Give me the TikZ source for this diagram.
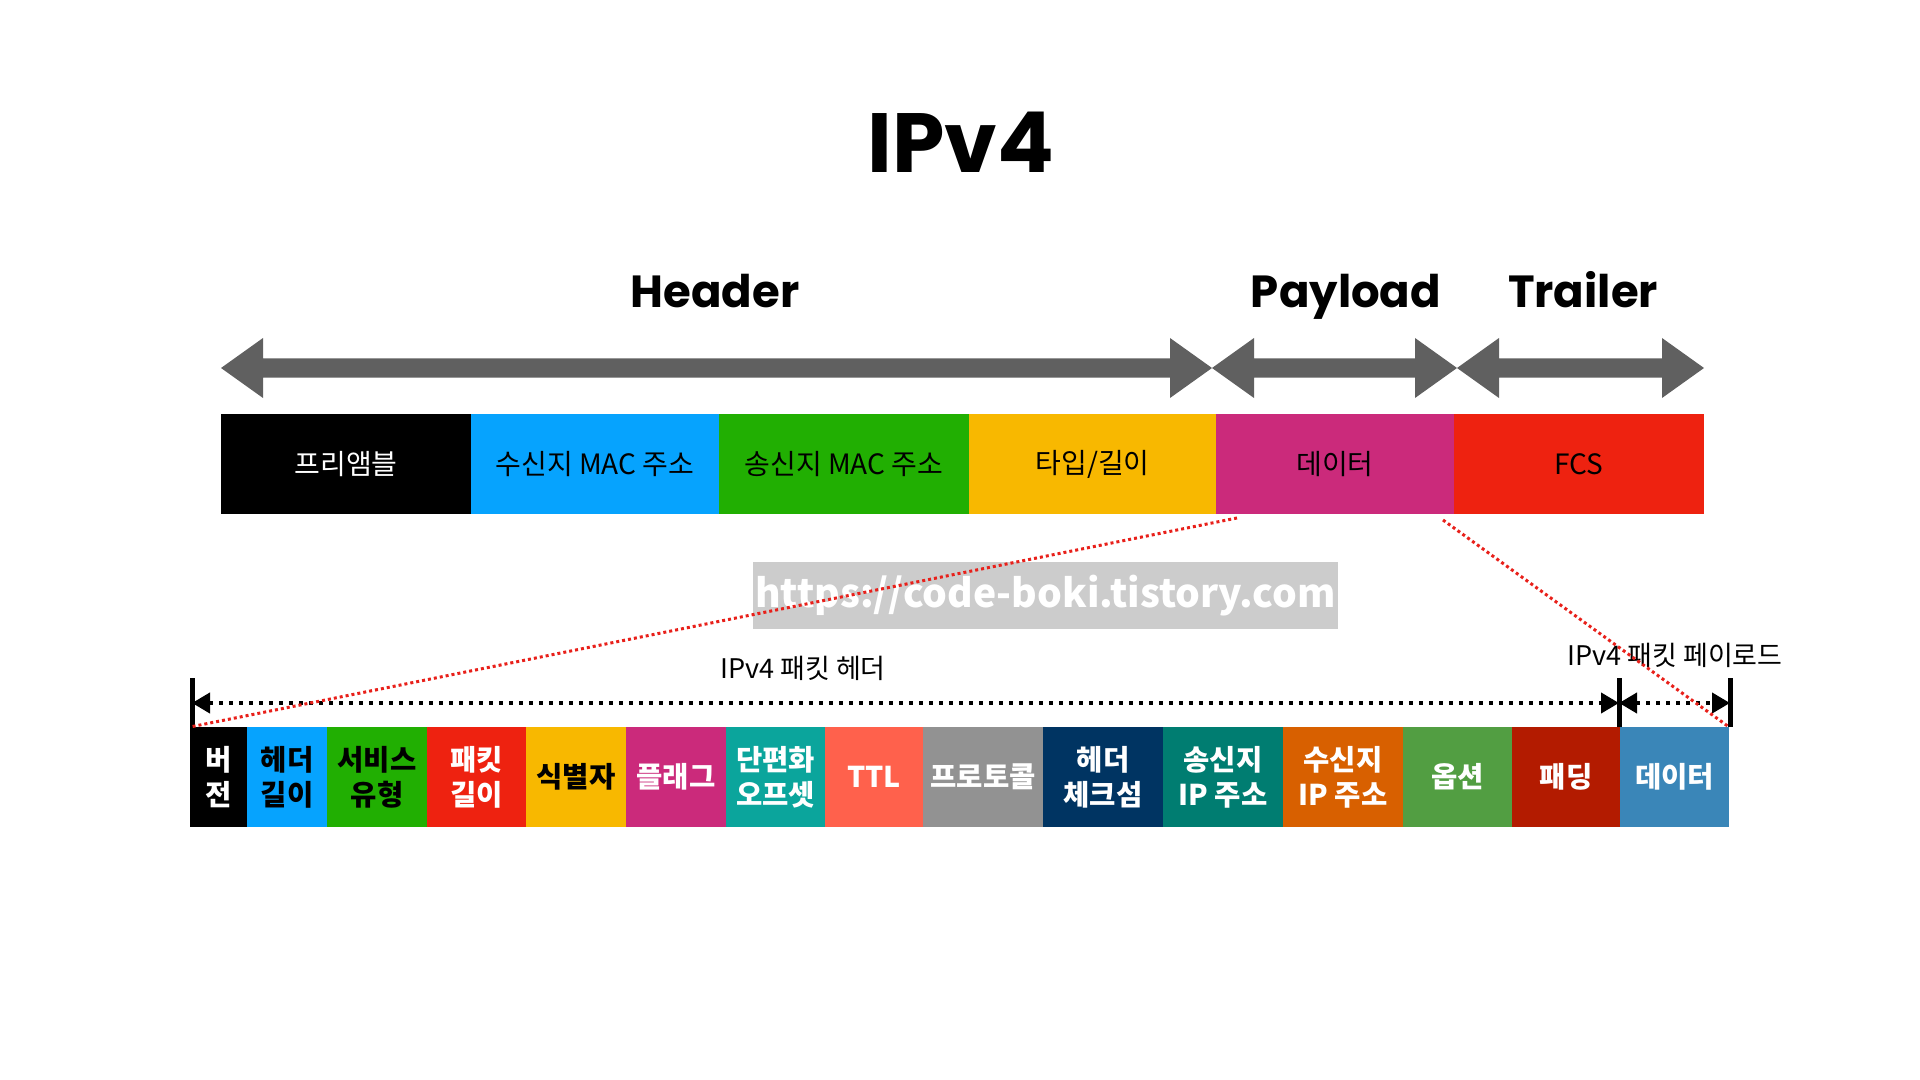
\documentclass[tikz,border=0pt]{standalone}
\usepackage{fontspec}
\setmainfont{Noto Sans CJK KR}
\newfontfamily\popfont{Poppins}
\usetikzlibrary{arrows.meta}
\definecolor{agray}{HTML}{606060}
\definecolor{cblack}{HTML}{000000}
\definecolor{cblue}{HTML}{06A3FE}
\definecolor{cgreen}{HTML}{21AF02}
\definecolor{cyellow}{HTML}{F8B800}
\definecolor{cmag}{HTML}{CB2A7B}
\definecolor{cred}{HTML}{EE2210}
\definecolor{cteal}{HTML}{0BA59C}
\definecolor{ctomato}{HTML}{FF614C}
\definecolor{cgray}{HTML}{929292}
\definecolor{cnavy}{HTML}{003462}
\definecolor{cteal2}{HTML}{007D71}
\definecolor{corange}{HTML}{D86000}
\definecolor{cgreen2}{HTML}{529E42}
\definecolor{cdred}{HTML}{B31B00}
\definecolor{csteel}{HTML}{3A86B8}
\definecolor{wmgray}{HTML}{CCCCCC}
\definecolor{dotred}{HTML}{E8201A}
\newcommand\mkcell[9]{%
  \node[#9, fill=#6, text=#7, minimum width={(#3-#2)*0.5pt}, minimum height={(#5-#4)*0.5pt}]
    (#1) at ({(#2+#3)/2},{(#4+#5)/2}) {#8};}
\newcommand\bigdarrow[2]{%
  \fill[agray] (#1,368) -- ({#1+42},338) -- ({#1+42},358.5) -- ({#2-42},358.5) -- ({#2-42},338)
    -- (#2,368) -- ({#2-42},398) -- ({#2-42},377.5) -- ({#1+42},377.5) -- ({#1+42},398) -- cycle;}
\begin{document}
\begin{tikzpicture}[x=0.5pt,y=-0.5pt,
  topcell/.style={inner sep=0pt, outer sep=0pt, font=\fontsize{14}{17}\selectfont},
  botcell/.style={inner sep=0pt, outer sep=0pt, align=center, font=\bfseries\fontsize{14.3}{17.5}\selectfont},
  titletext/.style={font=\popfont\bfseries\fontsize{42}{50}\selectfont, anchor=base},
  parttext/.style={font=\popfont\bfseries\fontsize{22.5}{28}\selectfont, anchor=base},
  dimlabel/.style={font=\fontsize{13.5}{16}\selectfont, inner sep=0pt},
  dimline/.style={line width=2pt, dash pattern=on 2pt off 3pt, {Triangle[length=9pt,width=10pt]}-{Triangle[length=9pt,width=10pt]}},
  ticklin/.style={line width=2.5pt},
  redline/.style={dotred, line width=1.5pt, dash pattern=on 1.5pt off 1.5pt}]
\useasboundingbox (0,0) rectangle (1920,1080);
% title and part labels
\node[titletext] (title) at (961,173) {IPv4};
\node[parttext] (hdr) at (715,308) {Header};
\node[parttext] (pay) at (1346,308) {Payload};
\node[parttext] (trl) at (1583,308) {Trailer};
% big double arrows
\bigdarrow{221}{1212}
\bigdarrow{1212}{1457}
\bigdarrow{1457}{1704}
% top bar
\mkcell{tA}{221}{471}{414}{514}{cblack}{white}{프리앰블}{topcell}
\mkcell{tB}{471}{719}{414}{514}{cblue}{black}{수신지 MAC 주소}{topcell}
\mkcell{tC}{719}{969}{414}{514}{cgreen}{black}{송신지 MAC 주소}{topcell}
\mkcell{tD}{969}{1216}{414}{514}{cyellow}{black}{타입/길이}{topcell}
\mkcell{tE}{1216}{1454}{414}{514}{cmag}{black}{데이터}{topcell}
\mkcell{tF}{1454}{1704}{414}{514}{cred}{black}{FCS}{topcell}
% watermark
\node[fill=wmgray, text=white, inner sep=0pt, minimum width=292.5pt, minimum height=33.5pt,
  font=\bfseries\fontsize{19.5}{24}\selectfont] (wm) at (1045.5,595.5) {https://code-boki.tistory.com};
% bottom row
\mkcell{b1}{190}{247}{727}{827}{cblack}{white}{버\\전}{botcell}
\mkcell{b2}{247}{327}{727}{827}{cblue}{black}{헤더\\길이}{botcell}
\mkcell{b3}{327}{427}{727}{827}{cgreen}{black}{서비스\\유형}{botcell}
\mkcell{b4}{427}{526}{727}{827}{cred}{white}{패킷\\길이}{botcell}
\mkcell{b5}{526}{626}{727}{827}{cyellow}{black}{식별자}{botcell}
\mkcell{b6}{626}{726}{727}{827}{cmag}{white}{플래그}{botcell}
\mkcell{b7}{726}{825}{727}{827}{cteal}{white}{단편화\\오프셋}{botcell}
\mkcell{b8}{825}{923}{727}{827}{ctomato}{white}{TTL}{botcell}
\mkcell{b9}{923}{1043}{727}{827}{cgray}{white}{프로토콜}{botcell}
\mkcell{b10}{1043}{1163}{727}{827}{cnavy}{white}{헤더\\체크섬}{botcell}
\mkcell{b11}{1163}{1283}{727}{827}{cteal2}{white}{송신지\\IP 주소}{botcell}
\mkcell{b12}{1283}{1403}{727}{827}{corange}{white}{수신지\\IP 주소}{botcell}
\mkcell{b13}{1403}{1512}{727}{827}{cgreen2}{white}{옵션}{botcell}
\mkcell{b14}{1512}{1620}{727}{827}{cdred}{white}{패딩}{botcell}
\mkcell{b15}{1620}{1729}{727}{827}{csteel}{white}{데이터}{botcell}
% dimension lines
\coordinate (tLt) at (192,678); \coordinate (tLb) at (192,727);
\coordinate (tMt) at (1619,678); \coordinate (tMb) at (1619,727);
\coordinate (tRt) at (1730,678); \coordinate (tRb) at (1730,727);
\coordinate (dL) at (192,703); \coordinate (dM) at (1619,703); \coordinate (dR) at (1730,703);
\draw[ticklin] (tLt) -- (tLb);
\draw[ticklin] (tMt) -- (tMb);
\draw[ticklin] (tRt) -- (tRb);
\draw[dimline] (dL) -- (dM);
\draw[dimline] (dM) -- (dR);
\node[dimlabel] (lh) at (803,668) {IPv4 패킷 헤더};
\node[dimlabel] (lp) at (1675,655) {IPv4 패킷 페이로드};
% red zoom lines
\coordinate (r1) at (1237,518);
\coordinate (r2) at (1443,520);
\draw[redline] (r1) -- (b1.north west);
\draw[redline] (r2) -- (b15.north east);
\end{tikzpicture}
\end{document}
